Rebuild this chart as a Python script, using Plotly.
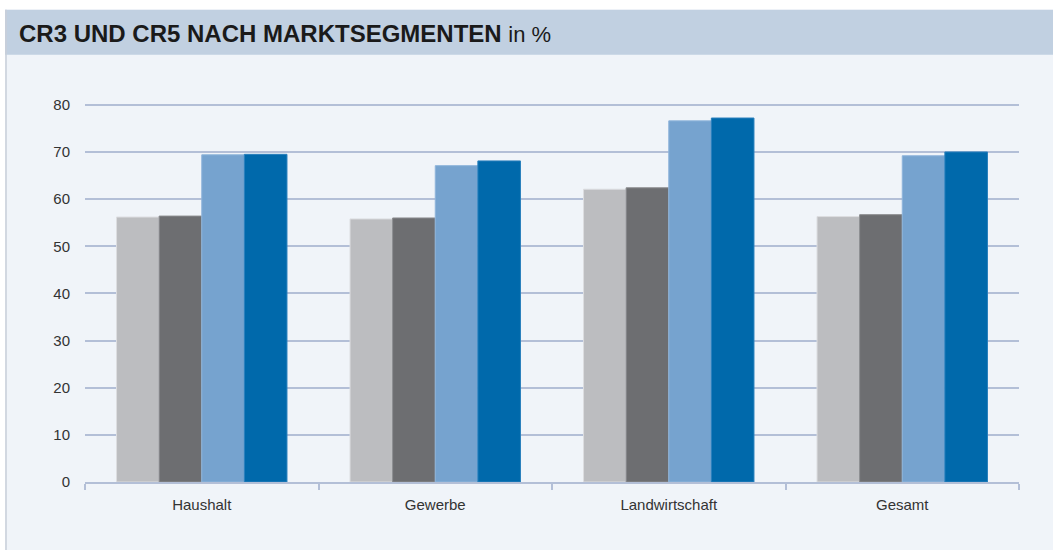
import plotly.graph_objects as go

categories = ["Haushalt", "Gewerbe", "Landwirtschaft", "Gesamt"]
series_names = ["CR3 (a)", "CR3 (b)", "CR5 (a)", "CR5 (b)"]
cr3_a = [56.2, 55.8, 62.1, 56.3]
cr3_b = [56.4, 56.0, 62.4, 56.7]
cr5_a = [69.4, 67.1, 76.6, 69.2]
cr5_b = [69.5, 68.1, 77.2, 70.0]
y_ticks = [0, 10, 20, 30, 40, 50, 60, 70, 80]

colors = ["#bcbdc0", "#6d6e71", "#76a3cf", "#0069ab"]
edge_colors = ["#dcdde0", "#8a8b8e", "#8fb5db", "#2a80bd"]

W, H = 1053, 550
y_top = 80.6
px_per_unit = (482 - 105) / 80.0
L, R = 85, W - 1019
B = H - 482
T = 482 - y_top * px_per_unit
pw, ph = W - L - R, H - T - B

def px_x(px):
    return (px - L) / pw

def px_y(py):
    return (H - B - py) / ph

fig = go.Figure()
for name, vals, c, ec in zip(series_names, [cr3_a, cr3_b, cr5_a, cr5_b], colors, edge_colors):
    fig.add_trace(go.Bar(
        x=categories, y=vals, name=name,
        marker=dict(color=c, line=dict(color=ec, width=1)),
        showlegend=False,
    ))

grid_color = "#b3bfd7"
font_fam = "Liberation Sans, Arial, sans-serif"

fig.update_layout(
    width=W, height=H,
    margin=dict(l=L, r=R, t=T, b=B),
    paper_bgcolor="#ffffff",
    plot_bgcolor="rgba(0,0,0,0)",
    barmode="group",
    bargap=0.27,
    bargroupgap=0,
    font=dict(family=font_fam, size=15, color="#333333"),
    xaxis=dict(
        type="category",
        tickson="boundaries",
        ticks="outside",
        ticklen=6,
        tickcolor=grid_color,
        tickwidth=1.5,
        showline=True,
        linecolor=grid_color,
        linewidth=1.5,
        showgrid=False,
        tickfont=dict(size=15, color="#333333"),
        ticklabelstandoff=8,
    ),
    yaxis=dict(
        range=[0, y_top],
        tickvals=y_ticks,
        showgrid=True,
        gridcolor=grid_color,
        gridwidth=1.5,
        zeroline=False,
        ticks="",
        ticklabelstandoff=14,
        tickfont=dict(size=15, color="#333333"),
    ),
    shapes=[
        # panel background
        dict(type="rect", xref="paper", yref="paper",
             x0=px_x(5), x1=px_x(W + 5), y0=px_y(H + 5), y1=px_y(10),
             fillcolor="#f0f4f9", line=dict(width=0), layer="below"),
        # title band
        dict(type="rect", xref="paper", yref="paper",
             x0=px_x(5), x1=px_x(W + 5), y0=px_y(55), y1=px_y(10),
             fillcolor="#c1d0e1", line=dict(width=0), layer="below"),
        # left border line
        dict(type="line", xref="paper", yref="paper",
             x0=px_x(6), x1=px_x(6), y0=px_y(H + 5), y1=px_y(10),
             line=dict(color="#c9cfd8", width=1.5), layer="below"),
    ],
    annotations=[
        dict(xref="paper", yref="paper", x=px_x(17), y=px_y(34),
             xanchor="left", yanchor="middle", showarrow=False,
             text="<b>CR3 UND CR5 NACH MARKTSEGMENTEN</b> <span style='font-size:22px'>in %</span>",
             font=dict(family="Liberation Sans, Arial, sans-serif",
                       size=24, color="#1a1a1a")),
    ],
)

fig.write_html("out.html", config={"displayModeBar": False},
               post_script="document.body.style.margin='0px';document.body.style.overflow='hidden';")
